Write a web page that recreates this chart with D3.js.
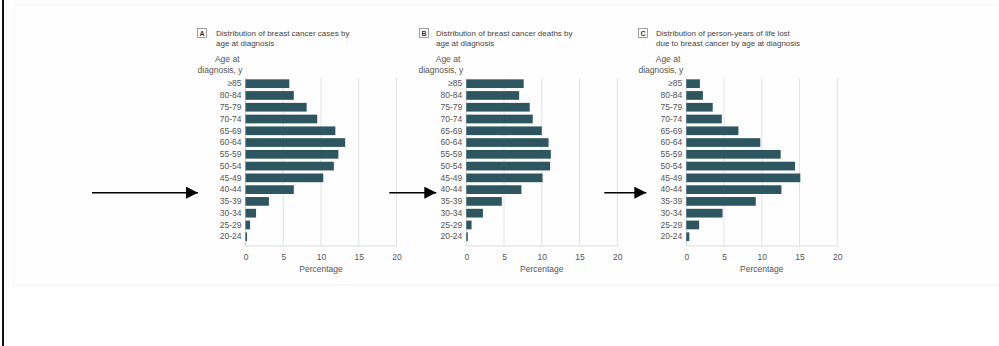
<!DOCTYPE html>
<html><head><meta charset="utf-8">
<script src="https://cdn.jsdelivr.net/npm/d3@7"></script>
<style>
html,body{margin:0;padding:0;background:#fff;}
svg{display:block;font-family:"Liberation Sans",Arial,sans-serif;}
</style></head>
<body><svg id="c" width="999" height="346"></svg>
<script>
const ageGroups = ["≥85","80-84","75-79","70-74","65-69","60-64","55-59","50-54","45-49","40-44","35-39","30-34","25-29","20-24"];
const casesPct  = [5.8, 6.4, 8.1, 9.5, 11.9, 13.2, 12.3, 11.7, 10.3, 6.4, 3.1, 1.4, 0.6, 0.2];
const deathsPct = [7.6, 7.0, 8.4, 8.8, 10.0, 10.9, 11.2, 11.1, 10.1, 7.3, 4.7, 2.2, 0.7, 0.2];
const pyllPct   = [1.8, 2.2, 3.5, 4.7, 6.9, 9.8, 12.5, 14.4, 15.1, 12.6, 9.2, 4.8, 1.7, 0.4];
const xTicks = [0, 5, 10, 15, 20];
const panelLetters = ["A","B","C"];
const panelTitles = [
  ["Distribution of breast cancer cases by","age at diagnosis"],
  ["Distribution of breast cancer deaths by","age at diagnosis"],
  ["Distribution of person-years of life lost","due to breast cancer by age at diagnosis"]
];
const highlightGroup = "40-44";

const svg = d3.select("#c");
// frame
svg.append("rect").attr("x",14).attr("y",5).attr("width",990).attr("height",280)
  .attr("fill","#fefefe").attr("stroke","#f3f3f3");
svg.append("line").attr("x1",3).attr("x2",3).attr("y1",0).attr("y2",346)
  .attr("stroke","#111").attr("stroke-width",2);

const panels = [
  {vals: casesPct,  x0: 245.5, arrowTip: 47.5, arrowLen: 106, titleX: 197, textGap: 19},
  {vals: deathsPct, x0: 466.3, arrowTip: 30,   arrowLen: 47,  titleX: 419, textGap: 17},
  {vals: pyllPct,   x0: 686.3, arrowTip: 40,   arrowLen: 42,  titleX: 638, textGap: 18}
];
const plotW = 151;

const defs = svg.append("defs");
defs.append("marker").attr("id","ah").attr("viewBox","0 0 10 10")
  .attr("refX",10).attr("refY",5).attr("markerWidth",12).attr("markerHeight",12)
  .attr("markerUnits","userSpaceOnUse").attr("orient","auto")
  .append("path").attr("d","M0,0L10,5L0,10Z").attr("fill","#000");

panels.forEach((p,i)=>{
  const x = d3.scaleLinear().domain([0,20]).range([p.x0, p.x0+plotW]);
  const y = d3.scaleBand().domain(ageGroups).range([77.8,242.6]).paddingInner(0.26).paddingOuter(0.13);
  const g = svg.append("g");
  // grid
  g.selectAll("line.grid").data(xTicks.filter(t=>t>0)).join("line")
    .attr("x1",d=>x(d)).attr("x2",d=>x(d)).attr("y1",78).attr("y2",246)
    .attr("stroke","#e2e2e2").attr("stroke-width",1);
  // x axis
  const ax = g.append("g").attr("transform","translate(0,245.5)")
    .call(d3.axisBottom(x).tickValues(xTicks).tickSize(0).tickPadding(8));
  ax.select(".domain").attr("stroke","#dcdcdc");
  ax.selectAll("text").attr("font-size",8.5).attr("fill","#555").attr("font-family","Liberation Sans,Arial,sans-serif");
  // zero line
  g.append("line").attr("x1",x(0)).attr("x2",x(0)).attr("y1",78).attr("y2",246).attr("stroke","#cfcfcf");
  // bars
  g.selectAll("rect.bar").data(p.vals).join("rect")
    .attr("x",x(0)).attr("y",(d,j)=>y(ageGroups[j]))
    .attr("width",d=>x(d)-x(0)).attr("height",y.bandwidth())
    .attr("fill","#2d5661");
  // y axis labels
  const ay = g.append("g").attr("transform",`translate(${x(0)},0)`)
    .call(d3.axisLeft(y).tickSize(0).tickPadding(4));
  ay.select(".domain").remove();
  ay.selectAll("text").attr("font-size",8.5).attr("fill","#555").attr("font-family","Liberation Sans,Arial,sans-serif");
  // axis title
  g.append("text").attr("x",x(10)).attr("y",272).attr("text-anchor","middle")
    .attr("font-size",8.5).attr("fill","#555").text("Percentage");
  // y title
  const yt = g.append("text").attr("text-anchor","end").attr("font-size",8.5).attr("fill","#555");
  yt.append("tspan").attr("x",x(0)-6).attr("y",62).text("Age at");
  yt.append("tspan").attr("x",x(0)-3).attr("y",73).text("diagnosis, y");
  // panel title
  g.append("rect").attr("x",p.titleX+0.5).attr("y",28.5).attr("width",9).attr("height",9)
    .attr("fill","#fff").attr("stroke","#888").attr("stroke-width",0.8);
  g.append("text").attr("x",p.titleX+5).attr("y",36).attr("text-anchor","middle")
    .attr("font-size",7).attr("font-weight","bold").attr("fill","#333").text(panelLetters[i]);
  const tt = g.append("text").attr("font-size",8).attr("fill","#444");
  panelTitles[i].forEach((line,k)=>{
    tt.append("tspan").attr("x",p.titleX+p.textGap).attr("y",35.5+k*10).text(line);
  });
  // arrow
  const ay0 = y(highlightGroup)+y.bandwidth()/2+3;
  const tip = x(0)-p.arrowTip;
  g.append("line").attr("x1",tip-p.arrowLen).attr("x2",tip).attr("y1",ay0).attr("y2",ay0)
    .attr("stroke","#000").attr("stroke-width",1.5).attr("marker-end","url(#ah)");
});
</script></body></html>
